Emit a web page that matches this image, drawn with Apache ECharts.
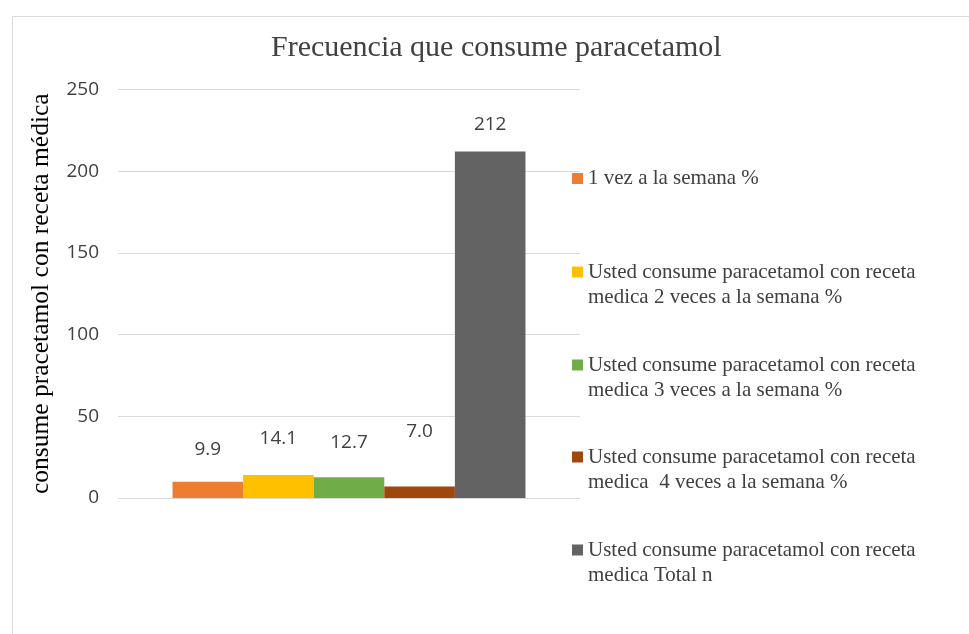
<!DOCTYPE html>
<html>
<head>
<meta charset="utf-8">
<script src="https://cdn.jsdelivr.net/npm/echarts@6/dist/echarts.min.js"></script>
<style>
    html, body { margin: 0; padding: 0; background: #fff; }
    #chart { width: 969px; height: 634px; }
</style>
</head>
<body>
<div id="chart"></div>
<script>
    // datos
    const categories = ['consume'];
    const seriesNames = [
        '1 vez a la semana %',
        'Usted consume paracetamol con receta\nmedica 2 veces a la semana %',
        'Usted consume paracetamol con receta\nmedica 3 veces a la semana %',
        'Usted consume paracetamol con receta\nmedica  4 veces a la semana %',
        'Usted consume paracetamol con receta\nmedica Total n'
    ];
    const seriesValues = [9.9, 14.1, 12.7, 7.0, 212];
    const labelDecimals = [1, 1, 1, 1, 0];
    const yTicks = [0, 50, 100, 150, 200, 250];

    const colors = ['#ED7D31', '#FFC000', '#70AD47', '#9E480E', '#636363'];
    const labelDist = [23, 27, 25, 45, 17];
    const legendTops = [166, 259.5, 352.5, 444.5, 537.5];
    const serif = '"Liberation Serif", "Times New Roman", serif';
    const sans = '"Open Sans", sans-serif';
    // cuadro arriba, alineado con la primera linea del texto
    const topSquare = 'path://M0 0H11V11H0Z M0 36L0.01 36L0 36Z';

    const myChart = echarts.init(document.getElementById('chart'));

    const series = seriesNames.map(function (name, i) {
        return {
            name: name,
            type: 'bar',
            data: [seriesValues[i]],
            barGap: 0,
            barCategoryGap: '23.6%',
            itemStyle: { color: colors[i] },
            label: {
                show: true,
                position: 'top',
                distance: labelDist[i],
                fontFamily: sans,
                fontSize: 19,
                color: '#404040',
                formatter: function (p) { return p.value.toFixed(labelDecimals[i]); }
            }
        };
    });

    const legends = seriesNames.map(function (name, i) {
        const twoLines = name.indexOf('\n') >= 0;
        return {
            data: [name],
            orient: 'vertical',
            left: 572,
            top: legendTops[i],
            padding: 0,
            itemWidth: 11,
            itemHeight: twoLines ? 36 : 11,
            itemGap: 0,
            icon: twoLines ? topSquare : 'rect',
            selectedMode: false,
            textStyle: {
                fontFamily: serif,
                fontSize: 21,
                lineHeight: 25,
                color: '#404040'
            }
        };
    });

    const option = {
        backgroundColor: '#fff',
        animation: false,
        title: {
            text: 'Frecuencia que consume paracetamol',
            left: 271,
            top: 33,
            padding: 0,
            textStyle: {
                fontFamily: serif,
                fontSize: 30,
                fontWeight: 'normal',
                color: '#404040'
            }
        },
        legend: legends,
        graphic: [{
            type: 'rect',
            left: 10,
            top: 14,
            shape: { width: 1000, height: 700 },
            style: { fill: 'none', stroke: '#d9d9d9', lineWidth: 1 },
            silent: true
        }],
        grid: { left: 118, right: 389, top: 89.5, bottom: 136 },
        xAxis: {
            type: 'category',
            data: categories,
            axisLine: { show: false },
            axisTick: { show: false },
            axisLabel: { show: false }
        },
        yAxis: {
            type: 'value',
            min: yTicks[0],
            max: yTicks[yTicks.length - 1],
            interval: yTicks[1] - yTicks[0],
            name: 'consume pracetamol con receta médica',
            nameLocation: 'middle',
            nameGap: 64,
            nameTextStyle: { fontFamily: serif, fontSize: 25.5, color: '#000' },
            axisLine: { show: false },
            axisTick: { show: false },
            axisLabel: { fontFamily: sans, fontSize: 19, color: '#404040', margin: 19 },
            splitLine: { lineStyle: { color: '#d9d9d9', width: 1 } }
        },
        series: series
    };
    myChart.setOption(option);
</script>
</body>
</html>
